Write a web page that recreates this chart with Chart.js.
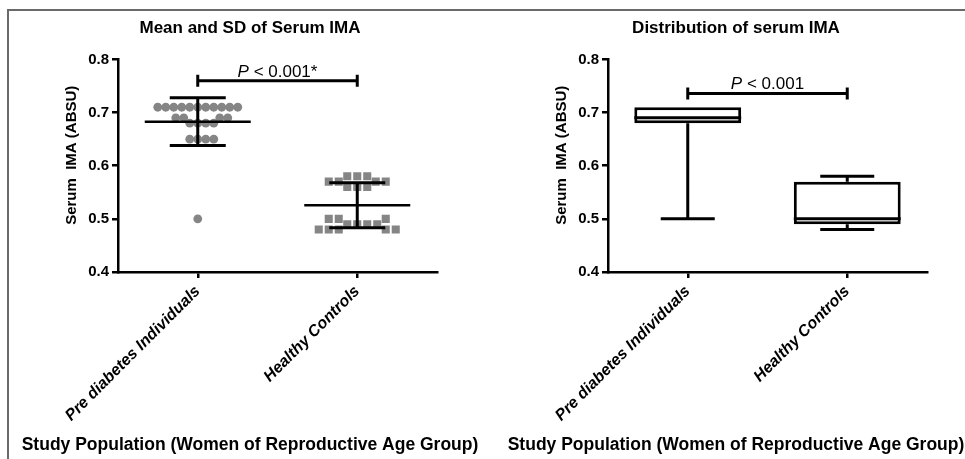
<!DOCTYPE html>
<html>
<head>
<meta charset="utf-8">
<script src="https://cdn.jsdelivr.net/npm/chart.js@4.4.0/dist/chart.umd.min.js"></script>
<style>
    html, body { margin: 0; padding: 0; background: #fff; overflow: hidden; }
    body { width: 965px; height: 459px; position: relative; }
    .frame { position: absolute; left: 7px; top: 9px; width: 980px; height: 470px;
             border-top: 2px solid #6a6a6a; border-left: 2px solid #6a6a6a; }
    .panel { position: absolute; top: 0; height: 459px; }
    #leftPanel { left: 0; width: 500px; }
    #rightPanel { left: 496px; width: 480px; }
</style>
</head>
<body>
<div class="frame"></div>
<div class="panel" id="leftPanel"><canvas id="scatterChart"></canvas></div>
<div class="panel" id="rightPanel"><canvas id="boxChart"></canvas></div>
<script>
// groups and axis
let groups = ['Pre diabetes Individuals', 'Healthy Controls'];
let yTicks = [0.4, 0.5, 0.6, 0.7, 0.8];

// serum IMA of each subject (ABSU)
let preDiabetesIMA = [0.71, 0.71, 0.71, 0.71, 0.71, 0.71, 0.71, 0.71, 0.71, 0.71, 0.71,
                      0.68, 0.68, 0.68, 0.68,
                      0.65, 0.65, 0.65, 0.65,
                      0.69, 0.69, 0.69, 0.69,
                      0.50];
let healthyIMA = [0.56, 0.56, 0.56,
                  0.58, 0.58, 0.58,
                  0.57, 0.57, 0.57, 0.57,
                  0.49, 0.49, 0.49, 0.49,
                  0.48, 0.48, 0.48, 0.48, 0.48,
                  0.50, 0.50, 0.50];

// box plot (min, Q1, median, Q3, max)
let boxMin = [0.50, 0.48];
let boxQ1 = [0.68, 0.49];
let boxMedian = [0.69, 0.50];
let boxQ3 = [0.71, 0.57];
let boxMax = [0.71, 0.58];

// significance brackets
let pLabels = ['P < 0.001*', 'P < 0.001'];
let bracketY = [0.76, 0.736];

const FONT = '"Liberation Sans", Arial, sans-serif';

function mean(arr) {
    return arr.reduce((a, b) => a + b, 0) / arr.length;
}
function sd(arr) {
    const m = mean(arr);
    return Math.sqrt(arr.reduce((a, b) => a + (b - m) * (b - m), 0) / (arr.length - 1));
}

// spread points of a column sideways so they don't sit on top of each other
const swarm = {
    id: 'swarm',
    afterDatasetsUpdate(chart, args, opts) {
        chart.data.datasets.forEach((ds, di) => {
            const gap = opts.gap[di];
            const placed = [];
            chart.getDatasetMeta(di).data.forEach(pt => {
                const base = pt.x;
                let k = 0, off = 0;
                while (k < 200) {
                    const cands = k === 0 ? [0] : [k, -k];
                    const ok = cands.find(c => placed.every(p => Math.hypot(p.x - (base + c), p.y - pt.y) >= gap));
                    if (ok !== undefined) { off = ok; break; }
                    k += 0.5;
                }
                pt.x = base + off;
                placed.push({x: pt.x, y: pt.y});
            });
        });
    }
};

// mean line with SD whiskers
const meanSd = {
    id: 'meanSd',
    afterDatasetsDraw(chart, args, opts) {
        const {ctx, scales: {x, y}} = chart;
        ctx.save();
        ctx.strokeStyle = '#000';
        [preDiabetesIMA, healthyIMA].forEach((vals, i) => {
            const m = mean(vals), s = sd(vals);
            const cx = x.getPixelForValue(i);
            const pm = y.getPixelForValue(m), pt = y.getPixelForValue(m + s), pb = y.getPixelForValue(m - s);
            ctx.lineWidth = 2.5;
            ctx.beginPath();
            ctx.moveTo(cx - opts.meanHalf, pm); ctx.lineTo(cx + opts.meanHalf, pm);
            ctx.stroke();
            ctx.lineWidth = 3;
            ctx.beginPath();
            ctx.moveTo(cx, pt); ctx.lineTo(cx, pb);
            ctx.moveTo(cx - opts.capHalf, pt); ctx.lineTo(cx + opts.capHalf, pt);
            ctx.moveTo(cx - opts.capHalf, pb); ctx.lineTo(cx + opts.capHalf, pb);
            ctx.stroke();
        });
        ctx.restore();
    }
};

// median line and whiskers of the box plot
const whiskers = {
    id: 'whiskers',
    afterDatasetsDraw(chart, args, opts) {
        const {ctx, scales: {y}} = chart;
        const bars = chart.getDatasetMeta(0).data;
        ctx.save();
        ctx.strokeStyle = '#000';
        ctx.lineWidth = 3;
        bars.forEach((bar, i) => {
            const cx = bar.x, hw = bar.width / 2;
            const pMed = y.getPixelForValue(boxMedian[i]);
            ctx.beginPath();
            ctx.moveTo(cx - hw, pMed); ctx.lineTo(cx + hw, pMed);
            if (boxMin[i] < boxQ1[i]) {
                const pQ1 = y.getPixelForValue(boxQ1[i]), pMin = y.getPixelForValue(boxMin[i]);
                ctx.moveTo(cx, pQ1); ctx.lineTo(cx, pMin);
                ctx.moveTo(cx - opts.capHalf, pMin); ctx.lineTo(cx + opts.capHalf, pMin);
            }
            if (boxMax[i] > boxQ3[i]) {
                const pQ3 = y.getPixelForValue(boxQ3[i]), pMax = y.getPixelForValue(boxMax[i]);
                ctx.moveTo(cx, pQ3); ctx.lineTo(cx, pMax);
                ctx.moveTo(cx - opts.capHalf, pMax); ctx.lineTo(cx + opts.capHalf, pMax);
            }
            ctx.stroke();
        });
        ctx.restore();
    }
};

// bracket between the two groups with the P value
function makeBracket(idx) {
    return {
        id: 'bracket',
        afterDatasetsDraw(chart) {
            const {ctx, scales: {x, y}} = chart;
            const x0 = x.getPixelForValue(0), x1 = x.getPixelForValue(1);
            const py = y.getPixelForValue(bracketY[idx]);
            ctx.save();
            ctx.strokeStyle = '#000';
            ctx.lineWidth = 3;
            ctx.beginPath();
            ctx.moveTo(x0, py); ctx.lineTo(x1, py);
            ctx.moveTo(x0, py - 6); ctx.lineTo(x0, py + 6);
            ctx.moveTo(x1, py - 6); ctx.lineTo(x1, py + 6);
            ctx.stroke();
            const label = pLabels[idx];
            const head = label.slice(0, 1), tail = label.slice(1);
            ctx.font = 'italic 17px ' + FONT;
            const wh = ctx.measureText(head).width;
            ctx.font = '17px ' + FONT;
            const wt = ctx.measureText(tail).width;
            const tx = (x0 + x1) / 2 - (wh + wt) / 2;
            ctx.fillStyle = '#000';
            ctx.textBaseline = 'alphabetic';
            ctx.font = 'italic 17px ' + FONT;
            ctx.fillText(head, tx, py - 4);
            ctx.font = '17px ' + FONT;
            ctx.fillText(tail, tx + wh, py - 4);
            ctx.restore();
        }
    };
}

function axes(leftWidth, rightWidth) {
    return {
        x: {
            type: 'category',
            labels: groups,
            offset: true,
            afterFit: s => { s.height = 163; },
            border: { color: '#000', width: 2.5 },
            grid: { offset: false, drawOnChartArea: false, color: '#000', lineWidth: 2.5, tickLength: 6 },
            ticks: {
                autoSkip: false, minRotation: 45, maxRotation: 45, padding: 4, color: '#000',
                font: { family: FONT, size: 16, weight: 'bold', style: 'italic' }
            }
        },
        y: {
            min: 0.4,
            max: 0.8,
            afterFit: s => { s.width = leftWidth; },
            afterBuildTicks: s => { s.ticks = yTicks.map(v => ({value: v})); },
            border: { color: '#000', width: 2.5 },
            grid: { drawOnChartArea: false, color: '#000', lineWidth: 2.5, tickLength: 6 },
            ticks: {
                padding: 3, color: '#000',
                callback: v => v.toFixed(1),
                font: { family: FONT, size: 15, weight: 'bold' }
            },
            title: {
                display: true, text: '     Serum  IMA (ABSU)', color: '#000',
                padding: { top: leftWidth - 55, bottom: 0 },
                font: { family: FONT, size: 15, weight: 'bold' }
            }
        },
        // empty axis that only keeps room on the right
        yRoom: {
            position: 'right',
            afterFit: s => { s.width = rightWidth; },
            ticks: { display: false },
            grid: { display: false, drawTicks: false },
            border: { display: false }
        }
    };
}

function titles(text) {
    return {
        legend: { display: false },
        tooltip: { enabled: false },
        title: {
            display: true, text: text, color: '#000',
            padding: { top: 18, bottom: 21 },
            font: { family: FONT, size: 17, weight: 'bold' }
        },
        subtitle: {
            display: true, position: 'bottom', color: '#000',
            text: 'Study Population (Women of Reproductive Age Group)',
            padding: { top: 0, bottom: 3 },
            font: { family: FONT, size: 17.5, weight: 'bold' }
        }
    };
}

// Chart of Mean and SD
const ctx = document.getElementById('scatterChart').getContext('2d');
const scatterChart = new Chart(ctx, {
    type: 'scatter',
    data: {
        datasets: [{
            label: groups[0],
            data: preDiabetesIMA.map(v => ({x: groups[0], y: v})),
            pointStyle: 'circle',
            pointRadius: 4.4,
            backgroundColor: '#858585',
            borderWidth: 0
        },
        {
            label: groups[1],
            data: healthyIMA.map(v => ({x: groups[1], y: v})),
            pointStyle: 'rect',
            pointRadius: 5.7,
            backgroundColor: '#858585',
            borderWidth: 0
        }]
    },
    options: {
        responsive: true,
        maintainAspectRatio: false,
        animation: false,
        events: [],
        layout: { padding: 0 },
        scales: axes(118, 63),
        plugins: Object.assign(titles('Mean and SD of Serum IMA'), {
            swarm: { gap: [8, 10] },
            meanSd: { meanHalf: 53, capHalf: 28 }
        })
    },
    plugins: [swarm, meanSd, makeBracket(0)]
});

// Chart of distribution (box plot)
const ctx2 = document.getElementById('boxChart').getContext('2d');
const boxChart = new Chart(ctx2, {
    type: 'bar',
    data: {
        labels: groups,
        datasets: [{
            label: 'IMA',
            data: groups.map((g, i) => [boxQ1[i], boxQ3[i]]),
            backgroundColor: '#fff',
            borderColor: '#000',
            borderWidth: 3,
            borderSkipped: false,
            barPercentage: 0.67,
            categoryPercentage: 1
        }]
    },
    options: {
        responsive: true,
        maintainAspectRatio: false,
        animation: false,
        events: [],
        layout: { padding: 0 },
        scales: axes(112, 49),
        plugins: Object.assign(titles('Distribution of serum IMA'), {
            whiskers: { capHalf: 27 }
        })
    },
    plugins: [whiskers, makeBracket(1)]
});
</script>
</body>
</html>
